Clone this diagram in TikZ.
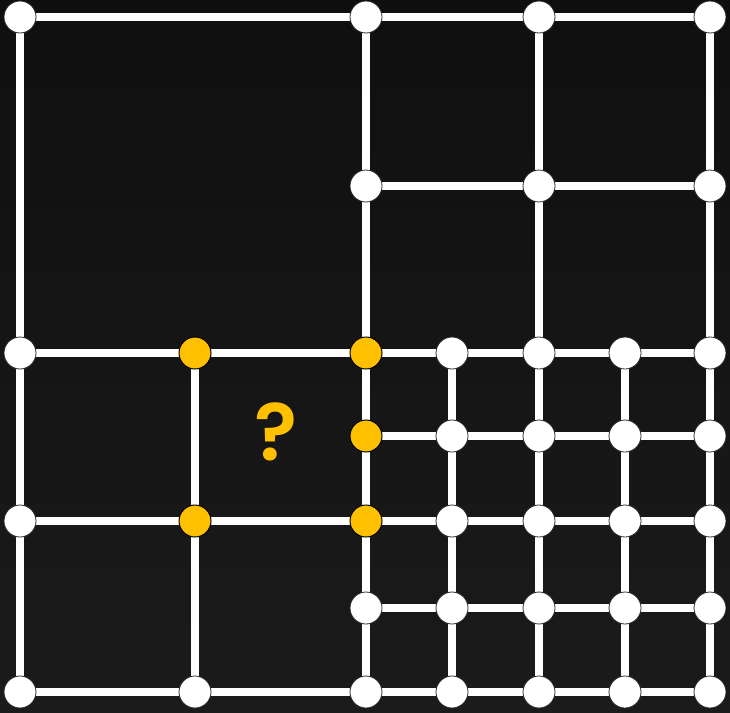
\documentclass[tikz,border=0pt]{standalone}
\usepackage{fontspec}
\setmainfont{Poppins}
\newfontfamily\markfont{Poppins}[UprightFont=* SemiBold]
\usepackage{tikz}
\usetikzlibrary{backgrounds}
\definecolor{GridBgTop}{RGB}{15,15,15}
\definecolor{GridBgBot}{RGB}{27,27,27}
\definecolor{GridGold}{RGB}{255,192,0}

\tikzset{
  dot/.style={circle, fill=white, draw=black!85, line width=0.8pt, minimum size=32pt, inner sep=0pt},
  hot/.style={dot, fill=GridGold, draw=black, line width=1pt},
  bar/.style={white, line width=7.5pt}
}

\begin{document}
\begin{tikzpicture}[x=1pt,y=-1pt]
  \path[use as bounding box] (0,0) rectangle (730,712);
  % junctions
  \foreach \n/\x/\y in {a1/20/17, c1/366/17, e1/539/17, g1/710/17,
                        c2/366/186, e2/539/186, g2/710/186,
                        a3/20/353, d3/452/353, e3/539/353, f3/625/353, g3/710/353,
                        d4/452/436, e4/539/436, f4/625/436, g4/710/436,
                        a5/20/521, d5/452/521, e5/539/521, f5/625/521, g5/710/521,
                        c6/366/608, d6/452/608, e6/539/608, f6/625/608, g6/710/608,
                        a7/20/692, b7/195/692, c7/366/692, d7/452/692, e7/539/692, f7/625/692, g7/710/692}{
    \node[dot] (\n) at (\x,\y) {};
  }
  % the marked cell
  \foreach \n/\x/\y in {b3/195/353, c3/366/353, c4/366/436, b5/195/521, c5/366/521}{
    \node[hot] (\n) at (\x,\y) {};
  }
  \node[text=GridGold, font=\fontsize{80}{80}\selectfont\markfont] (qmark) at (276,432) {?};
  \begin{scope}[on background layer]
    \shade[top color=GridBgTop, bottom color=GridBgBot] (0,0) rectangle (730,712);
    % rows
    \foreach \s/\t in {a1/g1, c2/g2, a3/g3, c4/g4, a5/g5, c6/g6, a7/g7}{
      \draw[bar] (\s.center) -- (\t.center);
    }
    % columns
    \foreach \s/\t in {a1/a7, c1/c7, e1/e7, g1/g7, b3/b7, d3/d7, f3/f7}{
      \draw[bar] (\s.center) -- (\t.center);
    }
  \end{scope}
\end{tikzpicture}
\end{document}
